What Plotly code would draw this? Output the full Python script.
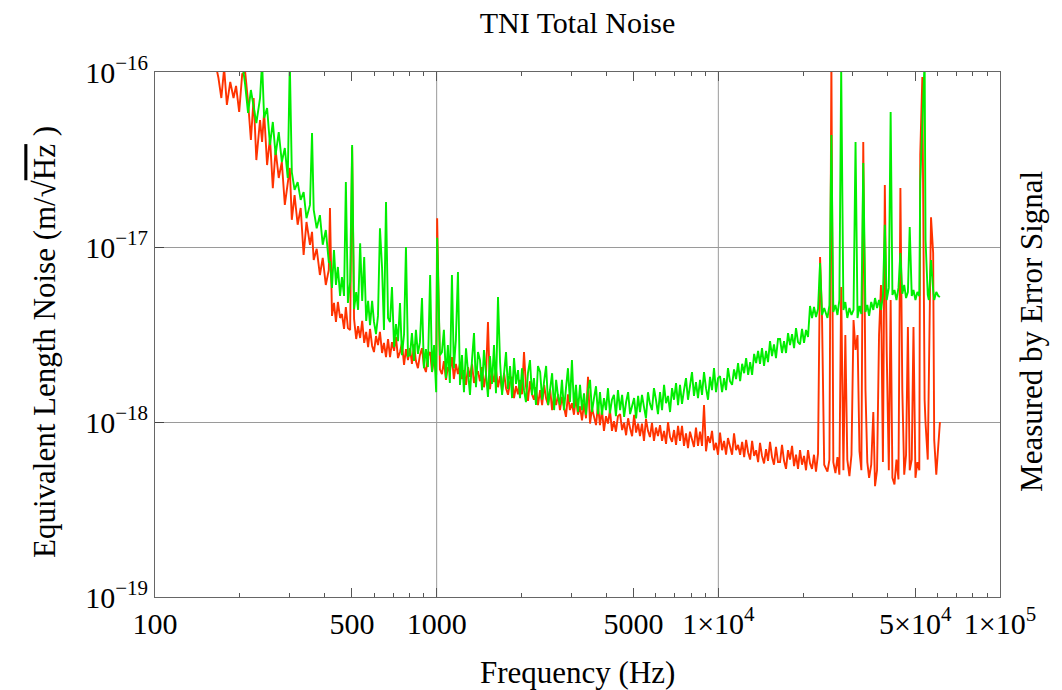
import plotly.graph_objects as go

# ---------------- data ----------------
# 160 Hz - 415 Hz
freq_lo = [163, 168, 172, 176, 180, 185, 190, 194, 199,
           204, 209, 214, 219, 224, 229, 236, 240, 244,
           250, 256, 262, 268, 275, 282, 289, 296, 301,
           306, 313, 321, 329, 337, 345, 355, 361, 366,
           375, 385, 394, 404, 414]
red_lo = [1.17e-16, 9.24e-17, 7.1e-17, 1.05e-16, 6.48e-17, 8.77e-17, 7.1e-17, 8.32e-17, 5.91e-17,
          9.74e-17, 1.0e-16, 6.74e-17, 4.09e-17, 7.1e-17, 3.14e-17, 5.32e-17, 3.98e-17, 5.91e-17,
          2.94e-17, 4.2e-17, 2.17e-17, 3.58e-17, 2.48e-17, 3.06e-17, 1.74e-17, 2.35e-17, 2.83e-17,
          1.43e-17, 1.98e-17, 1.34e-17, 1.67e-17, 9.0e-18, 1.39e-17, 1.03e-17, 1.22e-17, 8.43e-18,
          9.77e-18, 6.92e-18, 8.66e-18, 6.07e-18, 7.39e-18]
green_lo = [None, None, None, None, None, None, None, None, 1.3e-16,
            1.14e-16, 8.43e-17, 5.83e-17, 7.89e-17, 6.48e-17, 5.11e-17, 7.1e-17, 1.14e-16, 5.46e-17,
            6.23e-17, 3.83e-17, 5.18e-17, 3.36e-17, 4.54e-17, 3.06e-17, 3.68e-17, 2.48e-17, 1.14e-16,
            2.68e-17, 2.12e-17, 2.35e-17, 1.86e-17, 2.06e-17, 1.46e-17, 1.74e-17, 4.48e-17, 1.63e-17,
            1.28e-17, 1.52e-17, 1.03e-17, 1.25e-17, 8.21e-18]

# 418 Hz - 1 kHz
freq_lo2 = [418, 425, 432, 439, 446, 454, 461, 469, 476, 484,
            493, 501, 509, 518, 526, 535, 544, 553, 562, 571,
            580, 590, 599, 609, 619, 629, 640, 650, 661, 672,
            683, 694, 706, 717, 729, 741, 753, 766, 778, 791,
            804, 817, 831, 844, 858, 872, 887, 901, 916, 931,
            948, 963, 979, 996, 1004, 1027]
red_lo2 = [1.67e-17, 4.04e-18, 4.79e-18, 3.73e-18, 4.85e-18, 3.93e-18, 4.14e-18, 3.4e-18, 4.54e-18, 3.44e-18,
           3.36e-18, 3.73e-17, 3.88e-18, 2.98e-18, 3.53e-18, 3.02e-18, 3.78e-18, 2.83e-18, 3.27e-18, 2.68e-18,
           3.4e-18, 2.72e-18, 2.51e-18, 3.1e-18, 2.75e-18, 3.27e-18, 2.48e-18, 2.83e-18, 2.35e-18, 2.98e-18,
           2.35e-18, 2.86e-18, 2.55e-18, 3.06e-18, 2.32e-18, 2.51e-18, 2.83e-18, 2.12e-18, 2.61e-18, 2.26e-18,
           2.64e-18, 2.15e-18, 2.78e-18, 2.23e-18, 2.03e-18, 2.41e-18, 2.64e-18, 2.09e-18, 1.93e-18, 2.38e-18,
           2.51e-18, 1.93e-18, 2.32e-18, 1.86e-18, 1.46e-17, 2.0e-18]
green_lo2 = [8.21e-18, 5.84e-18, 9.61e-18, 6.07e-18, 7.69e-18, 5.25e-18, 6.74e-18, 5.25e-18, 2.35e-17, 4.79e-18,
             6.31e-18, 3.83e-17, 4.42e-18, 5.53e-18, 4.37e-18, 1.05e-17, 4.92e-18, 8.77e-18, 3.78e-18, 4.92e-18,
             3.58e-18, 4.92e-18, 3.73e-18, 3.18e-18, 4.04e-18, 1.28e-17, 7.59e-18, 3.36e-18, 1.81e-17, 3.93e-18,
             3.73e-18, 5.91e-18, 2.68e-18, 3.63e-18, 2.9e-18, 4.79e-18, 2.41e-18, 3.18e-18, 1.0e-17, 2.38e-18,
             2.41e-18, 3.22e-18, 2.23e-18, 3.36e-18, 2.45e-18, 2.86e-18, 5.11e-18, 2.03e-18, 2.61e-18, 2.06e-18,
             6.92e-18, 1.93e-18, 2.75e-18, 1.48e-18, 1.13e-17, 2.41e-18]

# 1 kHz - 10 kHz
freq_mid = [1044, 1061, 1079, 1096, 1114, 1133, 1151, 1170, 1190,
            1210, 1230, 1250, 1271, 1292, 1313, 1335, 1357, 1379, 1402,
            1425, 1449, 1472, 1497, 1521, 1546, 1572, 1598, 1624, 1651,
            1679, 1707, 1735, 1763, 1792, 1822, 1852, 1882, 1913, 1945,
            1976, 2009, 2042, 2075, 2109, 2144, 2180, 2215, 2252, 2289,
            2330, 2368, 2407, 2447, 2487, 2528, 2570, 2612, 2655, 2699,
            2740, 2785, 2831, 2878, 2925, 2973, 3022, 3072, 3123, 3174,
            3228, 3281, 3335, 3390, 3446, 3503, 3560, 3619, 3679, 3739,
            3800, 3863, 3926, 3991, 4057, 4123, 4191, 4260, 4330, 4402,
            4480, 4554, 4629, 4705, 4782, 4861, 4941, 5023, 5105, 5190,
            5270, 5357, 5445, 5535, 5626, 5718, 5813, 5908, 6006, 6105,
            6210, 6312, 6416, 6522, 6629, 6738, 6850, 6962, 7077, 7194,
            7310, 7431, 7553, 7677, 7803, 7932, 8063, 8195, 8330, 8468,
            8610, 8752, 8896, 9042, 9191, 9343, 9497, 9653, 9812, 9974]
red_mid = [1.88e-18, 2.23e-18, 1.74e-18, 2.06e-18, 1.93e-18, 2.35e-18, 1.76e-18, 2.15e-18, 1.88e-18,
           2.17e-18, 1.76e-18, 1.98e-18, 1.63e-18, 2.06e-18, 1.81e-18, 2.15e-18, 1.67e-18, 1.86e-18, 1.95e-18,
           1.71e-18, 2.06e-18, 1.58e-18, 1.88e-18, 3.73e-18, 1.54e-18, 1.93e-18, 1.69e-18, 2.0e-18, 1.58e-18,
           1.83e-18, 1.5e-18, 1.9e-18, 1.56e-18, 1.43e-18, 1.69e-18, 1.81e-18, 1.37e-18, 1.6e-18, 1.44e-18,
           1.74e-18, 1.44e-18, 2.51e-18, 1.6e-18, 1.32e-18, 1.71e-18, 1.44e-18, 1.34e-18, 1.58e-18, 1.25e-18,
           1.52e-18, 1.25e-18, 1.63e-18, 1.36e-18, 1.25e-18, 1.54e-18, 1.17e-18, 1.41e-18, 1.25e-18, 1.44e-18,
           1.17e-18, 1.39e-18, 1.22e-18, 1.07e-18, 1.44e-18, 1.17e-18, 1.28e-18, 1.1e-18, 1.39e-18, 1.1e-18,
           1.23e-18, 1.02e-18, 1.28e-18, 1.05e-18, 1.81e-18, 9.8e-19, 1.2e-18, 1.05e-18, 9.6e-19, 1.25e-18,
           9.6e-19, 1.17e-18, 8.9e-19, 1.08e-18, 9.8e-19, 1.17e-18, 8.9e-19, 1.01e-18, 8.8e-19, 1.08e-18,
           1.11e-18, 9.0e-19, 9.9e-19, 8.4e-19, 1.05e-18, 9.2e-19, 8.3e-19, 1.1e-18, 8.7e-19, 9.8e-19,
           8.3e-19, 9.8e-19, 7.8e-19, 1.04e-18, 8.9e-19, 8.2e-19, 9.9e-19, 7.8e-19, 9.3e-19, 8.3e-19,
           9.6e-19, 7.8e-19, 8.9e-19, 7.5e-19, 1.0e-18, 8.2e-19, 7.7e-19, 9.0e-19, 7.4e-19, 9.5e-19,
           7.8e-19, 9.5e-19, 7.3e-19, 8.6e-19, 7.1e-19, 8.8e-19, 7.8e-19, 7.2e-19, 9.3e-19, 7.3e-19,
           8.8e-19, 7.3e-19, 1.25e-18, 6.8e-19, 8.3e-19, 7.6e-19, 8.9e-19, 6.9e-19, 7.6e-19, 6.5e-19]
green_mid = [2.51e-18, 3.36e-18, 1.78e-18, 2.75e-18, 1.67e-18, 6.92e-18, 2.03e-18, 2.94e-18, 7.2e-18,
             1.63e-18, 2.41e-18, 1.48e-18, 2.64e-18, 1.95e-18, 1.43e-18, 2.26e-18, 3.22e-18, 1.58e-18, 2.51e-18,
             2.26e-18, 1.52e-18, 2.58e-18, 1.76e-18, 1.39e-18, 2.38e-18, 1.65e-18, 2.75e-18, 1.46e-18, 5.18e-18,
             2.2e-18, 1.43e-18, 1.95e-18, 2.51e-18, 1.54e-18, 2.09e-18, 1.37e-18, 2.32e-18, 1.65e-18, 1.98e-18,
             1.37e-18, 2.03e-18, 1.52e-18, 1.3e-18, 1.9e-18, 2.26e-18, 1.43e-18, 1.78e-18, 1.25e-18, 2.09e-18,
             1.93e-18, 1.34e-18, 1.71e-18, 2.09e-18, 1.25e-18, 1.56e-18, 1.9e-18, 1.17e-18, 1.74e-18, 1.39e-18,
             1.25e-18, 1.74e-18, 1.17e-18, 1.56e-18, 2.03e-18, 1.3e-18, 2.26e-18, 1.2e-18, 1.63e-18, 1.14e-18,
             1.63e-18, 1.17e-18, 1.46e-18, 1.1e-18, 1.52e-18, 1.74e-18, 1.14e-18, 1.37e-18, 1.6e-18, 1.11e-18,
             1.48e-18, 1.1e-18, 1.37e-18, 1.17e-18, 1.56e-18, 1.12e-18, 1.34e-18, 1.43e-18, 1.08e-18, 1.52e-18,
             1.17e-18, 1.43e-18, 1.07e-18, 1.3e-18, 1.48e-18, 1.11e-18, 1.25e-18, 1.37e-18, 1.05e-18, 1.41e-18,
             1.14e-18, 1.43e-18, 1.22e-18, 1.05e-18, 1.48e-18, 1.27e-18, 1.17e-18, 1.56e-18, 1.34e-18, 1.11e-18,
             1.48e-18, 1.17e-18, 1.63e-18, 1.28e-18, 1.41e-18, 1.14e-18, 1.56e-18, 1.34e-18, 1.67e-18, 1.25e-18,
             1.63e-18, 1.27e-18, 1.52e-18, 1.78e-18, 1.34e-18, 1.6e-18, 1.93e-18, 1.41e-18, 1.69e-18, 1.37e-18,
             1.74e-18, 1.43e-18, 1.93e-18, 1.56e-18, 1.34e-18, 1.81e-18, 1.52e-18, 2.03e-18, 1.48e-18, 1.78e-18]

# 10 kHz - 22.6 kHz
freq_knee = [10140, 10310, 10480, 10650, 10820, 11000, 11190, 11370, 11560, 11750,
             11950, 12150, 12350, 12550, 12760, 12970, 13180, 13400, 13620, 13840,
             14060, 14290, 14530, 14770, 15010, 15260, 15510, 15760, 16020, 16290,
             16560, 16830, 17110, 17390, 17680, 17970, 18270, 18570, 18870, 19180,
             19500, 19820, 20150, 20480, 20820, 21160, 21510, 21860, 22220, 22590]
red_knee = [8.7e-19, 6.9e-19, 7.8e-19, 6.5e-19, 8.1e-19, 7.3e-19, 6.5e-19, 8.6e-19, 6.9e-19, 7.4e-19,
            6.5e-19, 7.7e-19, 6.3e-19, 7.9e-19, 6.7e-19, 6.1e-19, 7.8e-19, 6.4e-19, 6.9e-19, 5.9e-19,
            7.6e-19, 6.4e-19, 5.8e-19, 7.0e-19, 6.0e-19, 7.7e-19, 6.3e-19, 5.7e-19, 7.2e-19, 5.9e-19,
            5.9e-19, 7.4e-19, 6.0e-19, 5.4e-19, 6.9e-19, 6.1e-19, 7.3e-19, 5.6e-19, 6.5e-19, 5.4e-19,
            6.9e-19, 5.7e-19, 6.4e-19, 5.3e-19, 6.9e-19, 5.8e-19, 5.4e-19, 6.5e-19, 5.2e-19, 6.6e-19]
green_knee = [1.83e-18, 1.48e-18, 1.78e-18, 1.52e-18, 2.03e-18, 1.71e-18, 1.63e-18, 2.0e-18, 1.76e-18, 2.17e-18,
              1.71e-18, 2.15e-18, 1.9e-18, 2.32e-18, 1.86e-18, 2.2e-18, 1.86e-18, 2.45e-18, 2.17e-18, 2.55e-18,
              2.15e-18, 2.64e-18, 2.09e-18, 2.55e-18, 2.2e-18, 2.9e-18, 2.38e-18, 2.78e-18, 2.32e-18, 2.98e-18,
              2.98e-18, 2.48e-18, 2.9e-18, 2.48e-18, 3.22e-18, 2.75e-18, 3.18e-18, 2.64e-18, 3.44e-18, 2.86e-18,
              2.78e-18, 3.4e-18, 2.83e-18, 3.36e-18, 3.06e-18, 4.6e-18, 3.93e-18, 4.54e-18, 3.98e-18, 4.42e-18]

# 23 kHz - 61 kHz (line region)
freq_hi = [22970,
           23340, 23760, 24400, 24800, 25200, 25600, 26050, 26480, 26900,
           27300, 27800, 28240, 28700, 29200, 29700, 30200, 30700, 31200,
           31700, 32200, 32700, 33300, 33800, 34300, 34900, 35500, 36000,
           36600, 37200, 37800, 38400, 39000, 39600, 40300, 40900, 41500,
           42200, 42900, 43600, 44300, 45000, 45700, 46400, 47100, 47800,
           48600, 49300, 50100, 50900, 51700, 52100, 53000, 54000, 54400,
           55400, 55900, 56900, 57900, 58400, 59400, 60400, 61200]
red_hi = [8.77e-18,
          3.98e-18, 5.7e-19, 5.2e-19, 6.1e-19, 1.17e-16, 5.9e-19, 5.1e-19, 6.3e-19, 5.0e-19,
          5.91e-18, 5.3e-19, 3.14e-18, 6.1e-19, 4.9e-19, 6.5e-19, 3.83e-18, 2.58e-18, 3.14e-18,
          6.8e-19, 5.3e-19, 3.98e-17, 1.52e-18, 5.9e-19, 4.8e-19, 5.7e-19, 1.14e-18, 4.3e-19,
          5.3e-19, 3.14e-18, 6.07e-18, 5.9e-19, 2.26e-17, 2.58e-18, 5.3e-19, 4.98e-18, 4.8e-19,
          4.4e-19, 6.1e-19, 4.7e-19, 2.17e-17, 1.52e-18, 5.0e-19, 6.5e-19, 3.49e-18, 5.3e-19,
          6.1e-19, 3.49e-18, 4.8e-19, 5.9e-19, 5.3e-19, 3.36e-17, 9.36e-17, 1.34e-18, 9.9e-19,
          6.1e-19, 1.46e-18, 1.48e-17, 9.24e-18, 7.9e-19, 5.0e-19, 7.5e-19, 1.0e-18]
green_hi = [8.1e-18,
            4.09e-18, 4.48e-18, 3.93e-18, 4.66e-18, 4.37e-17, 4.25e-18, 4.66e-18, 4.09e-18, 4.98e-18,
            1.05e-16, 4.37e-18, 4.85e-18, 3.93e-18, 4.48e-18, 4.09e-18, 4.37e-18, 3.98e-17, 3.93e-18,
            4.6e-18, 4.14e-18, 3.02e-17, 4.25e-18, 4.66e-18, 4.04e-18, 4.85e-18, 4.37e-18, 5.11e-18,
            4.48e-18, 4.98e-18, 4.37e-18, 5.25e-18, 1.34e-17, 4.98e-18, 5.84e-18, 5.91e-17, 5.32e-18,
            5.68e-18, 4.98e-18, 5.84e-18, 9.24e-18, 5.4e-18, 6.07e-18, 5.11e-18, 5.53e-18, 1.3e-17,
            5.25e-18, 5.68e-18, 4.98e-18, 5.53e-18, 5.25e-18, 2.35e-17, 4.85e-17, 1.17e-16, 1.1e-17,
            5.32e-18, 4.98e-18, 8.43e-18, 5.68e-18, 4.98e-18, 5.53e-18, 5.25e-18, 5.18e-18]

x_tick_vals = [100, 500, 1000, 5000, 10000, 50000, 100000]
x_tick_text = ["100", "500", "1000", "5000", "1\u00d710<sup>4</sup>",
               "5\u00d710<sup>4</sup>", "1\u00d710<sup>5</sup>"]
x_minor_vals = [200, 300, 400, 600, 700, 800, 900,
                2000, 3000, 4000, 6000, 7000, 8000, 9000,
                20000, 30000, 40000, 60000, 70000, 80000, 90000]
x_grid_vals = [1000, 10000]
y_tick_vals = [1e-19, 1e-18, 1e-17, 1e-16]
y_tick_text = ["10<sup>\u221219</sup>", "10<sup>\u221218</sup>",
               "10<sup>\u221217</sup>", "10<sup>\u221216</sup>"]

segments = [(freq_lo, red_lo, green_lo), (freq_lo2, red_lo2, green_lo2),
            (freq_mid, red_mid, green_mid), (freq_knee, red_knee, green_knee),
            (freq_hi, red_hi, green_hi)]
for a, b, c in segments:
    assert len(a) == len(b) == len(c), (len(a), len(b), len(c))

freq = freq_lo + freq_lo2 + freq_mid + freq_knee + freq_hi
red = red_lo + red_lo2 + red_mid + red_knee + red_hi
green = green_lo + green_lo2 + green_mid + green_knee + green_hi

FONT = "Liberation Serif"

fig = go.Figure()
fig.add_trace(go.Scatter(x=freq, y=red, mode="lines",
                         line=dict(color="#ff3300", width=1.9),
                         connectgaps=False, showlegend=False))
fig.add_trace(go.Scatter(x=freq, y=green, mode="lines",
                         line=dict(color="#00ee00", width=1.9),
                         connectgaps=False, showlegend=False))

for gx in x_grid_vals:
    fig.add_shape(type="line", xref="x", yref="paper", x0=gx, x1=gx, y0=0, y1=1,
                  line=dict(color="#9a9a9a", width=1), layer="below")

fig.update_xaxes(type="log", range=[2, 5], tickmode="array",
                 tickvals=x_tick_vals, ticktext=x_tick_text,
                 ticks="inside", ticklen=9, tickwidth=1, tickcolor="#555",
                 showline=True, linecolor="#666", linewidth=1, mirror="ticks",
                 showgrid=False, zeroline=False,
                 minor=dict(tickvals=x_minor_vals, ticks="inside", ticklen=4,
                            tickcolor="#555", tickwidth=1, showgrid=False),
                 tickfont=dict(family=FONT, size=30, color="black"))
fig.update_yaxes(type="log", range=[-19, -16], tickmode="array",
                 tickvals=y_tick_vals, ticktext=y_tick_text,
                 ticks="inside", ticklen=9, tickwidth=1, tickcolor="#444",
                 showline=True, linecolor="#666", linewidth=1, mirror=True,
                 showgrid=True, gridcolor="#9a9a9a", gridwidth=1, zeroline=False,
                 tickfont=dict(family=FONT, size=30, color="black"))

fig.add_annotation(text="Frequency (Hz)", xref="paper", yref="paper",
                   x=0.5, y=-0.143, xanchor="center", yanchor="middle",
                   showarrow=False, font=dict(family=FONT, size=31, color="black"))
fig.add_annotation(text="Equivalent Length Noise (m/\u221a<span style='text-decoration:overline'>Hz</span> )",
                   xref="paper", yref="paper", x=-0.130, y=0.486,
                   xanchor="center", yanchor="middle", textangle=-90,
                   showarrow=False, font=dict(family=FONT, size=31, color="black"))
fig.add_annotation(text="Measured by Error Signal", xref="paper", yref="paper",
                   x=1.0379, y=0.505, xanchor="center", yanchor="middle",
                   textangle=-90, showarrow=False,
                   font=dict(family=FONT, size=31, color="black"))

fig.update_layout(
    width=1062, height=690,
    margin=dict(l=155, r=62, t=72, b=93),
    paper_bgcolor="white", plot_bgcolor="white",
    title=dict(text="TNI Total Noise", x=0.5438, xanchor="center",
               y=1 - 22 / 690, yanchor="middle",
               font=dict(family=FONT, size=30, color="black")),
    showlegend=False,
)

fig.write_html("out.html")
